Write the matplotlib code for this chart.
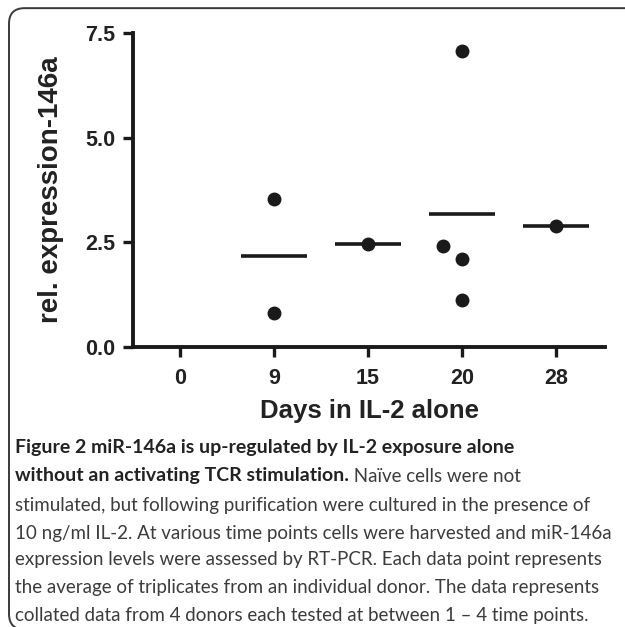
import matplotlib
matplotlib.use("Agg")
import matplotlib.pyplot as plt
from matplotlib.patches import FancyBboxPatch

# valores (expresion relativa de miR-146a)
days = ['0', '9', '15', '20', '28']
day0 = []
day9 = [3.53, 0.81]
day15 = [2.46]
day20 = [7.07, 2.41, 2.10, 1.12]
day28 = [2.89]
groups = [day0, day9, day15, day20, day28]

y_ticks = [0.0, 2.5, 5.0, 7.5]
x_label = 'Days in IL-2 alone'
y_label = 'rel. expression-146a'

caption_bold_1 = 'Figure 2 miR-146a is up-regulated by IL-2 exposure alone'
caption_bold_2 = 'without an activating TCR stimulation.'
caption_rest_2 = ' Naïve cells were not'
caption_lines = [
    'stimulated, but following purification were cultured in the presence of',
    '10 ng/ml IL-2. At various time points cells were harvested and miR-146a',
    'expression levels were assessed by RT-PCR. Each data point represents',
    'the average of triplicates from an individual donor. The data represents',
    'collated data from 4 donors each tested at between 1 \u2013 4 time points.',
]


def spread(values, gap=0.5, shift=0.2):
    '''Desplaza a la izquierda los puntos que se enciman con otro mas bajo'''
    offsets = []
    for v in values:
        close = [w for w in values if w < v and v - w < gap]
        offsets.append(-shift if close else 0.0)
    return offsets


fig = plt.figure(figsize=(6.25, 6.27), dpi=100)
ax = fig.add_axes([0.2128, 0.4466, 0.7552, 0.5008])

ink = '#1a1a1a'
for i, vals in enumerate(groups):
    if not vals:
        continue
    offs = spread(vals)
    xs = [i + o for o in offs]
    ax.plot(xs, vals, 'o', color=ink, markersize=9, zorder=3)
    mean = sum(vals) / len(vals)
    ax.hlines(mean, i - 0.35, i + 0.35, color=ink, linewidth=2.6, zorder=2)

ax.set_xlim(-0.5, 4.52)
ax.set_ylim(0, 7.5)
ax.set_xticks(range(len(days)))
ax.set_xticklabels(days)
ax.set_yticks(y_ticks)
ax.set_yticklabels(['%.1f' % t for t in y_ticks])

for side in ['top', 'right']:
    ax.spines[side].set_visible(False)
for side in ['left', 'bottom']:
    ax.spines[side].set_linewidth(2.8)
    ax.spines[side].set_color(ink)

ax.tick_params(direction='out', length=7, width=2.4, color=ink, pad=6,
               labelsize=15.5, labelcolor='#222222')
ax.tick_params(axis='x', pad=8)
for lab in ax.get_xticklabels() + ax.get_yticklabels():
    lab.set_fontfamily('Liberation Sans')
    lab.set_fontweight('bold')

ax.set_xlabel(x_label, fontsize=18.5, fontweight='bold', family='Liberation Sans',
              color='#222222', labelpad=7)
ax.set_ylabel(y_label, fontsize=20, fontweight='bold', family='Liberation Sans',
              color='#222222', labelpad=15)

# marco redondeado de la figura (solo se ven el borde superior e izquierdo)
box = FancyBboxPatch((0.0144, -0.004), 3.0, 0.991, boxstyle='round,pad=0,rounding_size=0.025',
                     transform=fig.transFigure, fill=False, edgecolor='#3a3a3a',
                     linewidth=1.4, clip_on=False)
fig.patches.append(box)

# pie de figura
cap_font = 'Lato'
cap_size = 13.5
bold_size = 14.0
cap_color = '#3c3c3c'
x0 = 15 / 625
line_y = [447, 476, 505, 533, 560, 588, 615]
fig.text(x0, 1 - line_y[0] / 627, caption_bold_1, fontsize=bold_size, family=cap_font,
         fontweight='bold', color='#222222', va='center')
t = fig.text(x0, 1 - line_y[1] / 627, caption_bold_2, fontsize=bold_size, family=cap_font,
             fontweight='bold', color='#222222', va='center')
renderer = fig.canvas.get_renderer()
bb = t.get_window_extent(renderer=renderer)
fig.text(bb.x1 / fig.bbox.width, 1 - line_y[1] / 627, caption_rest_2, fontsize=cap_size,
         family=cap_font, color=cap_color, va='center')
for k, line in enumerate(caption_lines):
    fig.text(x0, 1 - line_y[k + 2] / 627, line, fontsize=cap_size, family=cap_font,
             color=cap_color, va='center')

fig.savefig('out.png', dpi=100)
